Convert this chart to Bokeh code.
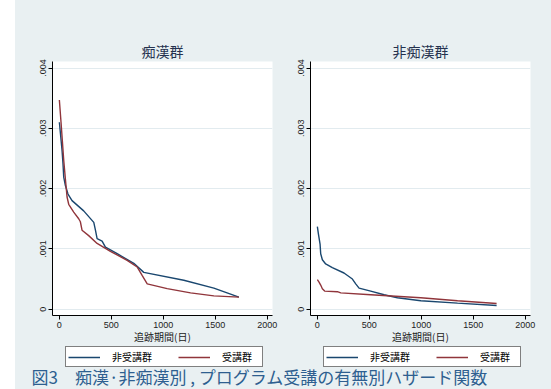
from bokeh.plotting import figure
from bokeh.models import Range1d, FixedTicker, Legend, LegendItem, Label, Spacer
from bokeh.layouts import row, column
from bokeh.embed import file_html
from bokeh.resources import INLINE

# ---------------- data ----------------
panel_titles = ["痴漢群", "非痴漢群"]
series_names = ["非受講群", "受講群"]
x_axis_title = "追跡期間(日)"
caption = "図3　痴漢·非痴漢別 , プログラム受講の有無別ハザード関数"

x_ticks = [0, 500, 1000, 1500, 2000]
y_ticks = [0, 0.001, 0.002, 0.003, 0.004]
y_tick_labels = ["0", ".001", ".002", ".003", ".004"]

# 痴漢群
t_chikan_non = [0, 26, 35, 42, 58, 83, 122, 234, 331, 347, 363, 411, 443, 556, 716, 812, 1197, 1486, 1727]
h_chikan_non = [0.00310, 0.00263, 0.00241, 0.00219, 0.00205, 0.00191, 0.00180, 0.00163, 0.00144,
                0.00131, 0.00117, 0.00113, 0.00103, 0.00092, 0.00076, 0.00061, 0.00048, 0.00035, 0.00020]
t_chikan_att = [0, 16, 42, 58, 74, 90, 138, 186, 202, 218, 282, 363, 491, 652, 748, 796, 845, 1037, 1262, 1486, 1727]
h_chikan_att = [0.00347, 0.00310, 0.00247, 0.00216, 0.00186, 0.00174, 0.00161, 0.00150, 0.00145, 0.00131,
                0.00122, 0.00109, 0.00096, 0.00081, 0.00070, 0.00056, 0.00042, 0.00034, 0.00027, 0.00022, 0.00020]

# 非痴漢群
t_non_non = [0, 10, 26, 32, 48, 80, 144, 256, 337, 369, 401, 513, 642, 770, 995, 1348, 1724]
h_non_non = [0.00137, 0.00125, 0.00108, 0.00092, 0.00082, 0.00075, 0.00069, 0.00060, 0.00050,
             0.00042, 0.00035, 0.00030, 0.00024, 0.00019, 0.00014, 0.00010, 0.00006]
t_non_att = [0, 16, 32, 48, 70, 193, 225, 513, 995, 1348, 1724]
h_non_att = [0.00049, 0.00045, 0.00040, 0.00034, 0.00030, 0.00029, 0.00027, 0.00024, 0.00019, 0.00014, 0.000095]

panel_data = [
    [(t_chikan_non, h_chikan_non), (t_chikan_att, h_chikan_att)],
    [(t_non_non, h_non_non), (t_non_att, h_non_att)],
]

# ---------------- style ----------------
BG = "#e9f0f2"
GRID = "#e2ebef"
COLORS = ["#1a476f", "#90353b"]
CJK = "Noto Sans CJK JP"
NUM = "Liberation Sans"
X_RANGE = (-66, 2050)
Y_RANGE = (-0.000105, 0.004108)


def make_panel(title, series, width, min_left, min_right):
    p = figure(width=width, height=346, title=title,
               x_range=Range1d(*X_RANGE), y_range=Range1d(*Y_RANGE),
               toolbar_location=None, output_backend="svg",
               min_border_left=min_left, min_border_right=min_right,
               min_border_top=61, min_border_bottom=31)
    p.background_fill_color = "white"
    p.border_fill_color = BG
    p.outline_line_color = None

    p.title.align = "center"
    p.title.text_font = CJK
    p.title.text_font_size = "14px"
    p.title.text_font_style = "normal"
    p.title.text_color = "#25324f"
    p.title.standoff = 2

    p.xaxis.ticker = FixedTicker(ticks=x_ticks)
    p.yaxis.ticker = FixedTicker(ticks=y_ticks)
    p.yaxis.major_label_overrides = {v: s for v, s in zip(y_ticks, y_tick_labels)}
    p.yaxis.major_label_orientation = "vertical"
    for ax in (p.xaxis[0], p.yaxis[0]):
        ax.axis_line_color = "black"
        ax.major_tick_line_color = "black"
        ax.minor_tick_line_color = None
        ax.major_tick_out = 4
        ax.major_tick_in = 0
        ax.major_label_standoff = 2
        ax.major_label_text_font = NUM
        ax.major_label_text_font_size = "9px"
        ax.major_label_text_color = "#222222"
    p.xaxis.axis_label = x_axis_title
    p.xaxis.axis_label_text_font = CJK
    p.xaxis.axis_label_text_font_size = "10px"
    p.xaxis.axis_label_text_font_style = "normal"
    p.xaxis.axis_label_text_color = "#222222"
    p.xaxis.axis_label_standoff = -2

    p.xgrid.visible = False
    p.ygrid.ticker = FixedTicker(ticks=y_ticks)
    p.ygrid.grid_line_color = GRID
    p.ygrid.grid_line_width = 1

    for (t, h), c in zip(series, COLORS):
        p.line(t, h, line_color=c, line_width=1.4)
    return p


p1 = make_panel(panel_titles[0], panel_data[0], 275, 37, 18)
p2 = make_panel(panel_titles[1], panel_data[1], 261, 20, 21)

# bottom strip: the two legends and the figure caption
bottom = figure(width=536, height=43, title=None, toolbar_location=None, output_backend="svg",
                x_range=Range1d(-20, -10), y_range=Range1d(0, 1),
                x_axis_location=None, y_axis_location=None, min_border=0)
bottom.grid.visible = False
bottom.outline_line_color = None
bottom.background_fill_color = BG
bottom.border_fill_color = BG

for series, left in zip(panel_data, [50, 308]):
    items = []
    for (t, h), c, name in zip(series, COLORS, series_names):
        # lines lie outside the visible range; they only feed the legend keys
        r = bottom.line(t, h, line_color=c, line_width=1.4)
        items.append(LegendItem(label=name, renderers=[r]))
    leg = Legend(items=items, orientation="horizontal", location=(left, 22),
                 margin=0, padding=2, spacing=26, label_standoff=12,
                 glyph_width=32, glyph_height=10, label_height=10, label_width=38,
                 label_text_font=CJK, label_text_font_size="10px",
                 label_text_color="black",
                 border_line_color="black", border_line_width=1,
                 background_fill_color="white", background_fill_alpha=1.0)
    bottom.add_layout(leg, "center")

bottom.add_layout(Label(x=16, y=13, x_units="screen", y_units="screen", text=caption,
                        text_font=CJK, text_font_size="17px", text_color="#2e5f90",
                        text_baseline="middle"))

white = {"background-color": "white"}
layout = column(row(Spacer(width=15, height=346, styles=white), p1, p2),
                row(Spacer(width=15, height=43, styles=white), bottom),
                styles={"background-color": BG})

with open("out.html", "w") as f:
    f.write(file_html(layout, INLINE))
